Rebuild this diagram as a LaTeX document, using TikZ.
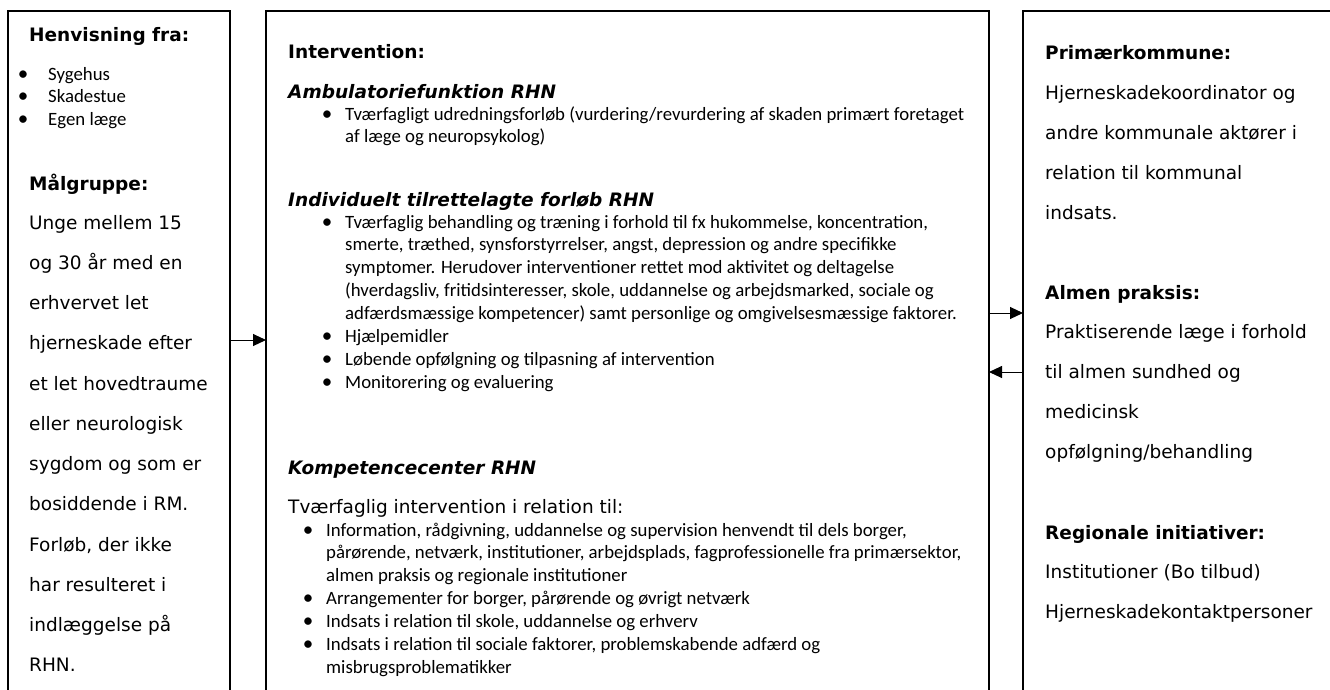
\documentclass[tikz,border=0pt]{standalone}
\usepackage{fontspec}
\setmainfont{DejaVu Sans}
\newfontfamily\calib{Carlito}
\usetikzlibrary{arrows.meta}
\tikzset{
  frame/.style={draw=black, line width=1.7pt, anchor=north west, inner sep=0pt, outer sep=0pt},
  hd/.style={anchor=base west, inner sep=0pt, font=\fontsize{18.5}{22}\selectfont\bfseries},
  hdi/.style={anchor=base west, inner sep=0pt, font=\fontsize{18.5}{22}\selectfont\bfseries\itshape},
  txt/.style={anchor=base west, inner sep=0pt},
  arr/.style={line width=1pt, -{Triangle[length=13pt, width=12pt]}}
}
\newcommand{\vbody}[2]{\parbox[t]{#1}{\fontsize{18.5}{40.25}\selectfont\raggedright #2}}
\newcommand{\cbody}[2]{\parbox[t]{#1}{\calib\fontsize{18.8}{22.9}\selectfont\raggedright #2}}
\newcommand{\bul}[1]{\leavevmode\llap{\makebox[#1][c]{\fontsize{21}{22.9}\selectfont •}}}
\begin{document}
\begin{tikzpicture}[x=1pt,y=-1pt]
\fill[white] (0,0) rectangle (1330,689);
\clip (0,0) rectangle (1330,689);
% frames
\node[frame, minimum width=222pt, minimum height=720pt] (lbox) at (8,11) {};
\node[frame, minimum width=723pt, minimum height=720pt] (mbox) at (266,11) {};
\node[frame, minimum width=400pt, minimum height=720pt] (rbox) at (1023,11) {};
% left box
\node[hd] (lh1) at (29,41) {Henvisning fra:};
\node[txt] (ll1) at (48,80) {\cbody{170pt}{\bul{50pt}Sygehus\\\bul{50pt}Skadestue\\\bul{50pt}Egen læge}};
\node[hd] (lh2) at (29,190) {Målgruppe:};
\node[txt] (ll2) at (29,229) {\vbody{200pt}{Unge mellem 15\\og 30 år med en\\erhvervet let\\hjerneskade efter\\et let hovedtraume\\eller neurologisk\\sygdom og som er\\bosiddende i RM.\\Forløb, der ikke\\har resulteret i\\indlæggelse på\\RHN.}};
% middle box
\node[hd] (mh0) at (288,58) {Intervention:};
\node[hdi] (mh1) at (288,98) {Ambulatoriefunktion RHN};
\node[txt] (ml1) at (345,120) {\cbody{630pt}{\bul{36pt}Tværfagligt udredningsforløb (vurdering/revurdering af skaden primært foretaget\\af læge og neuropsykolog)}};
\node[hdi] (mh2) at (288,206) {Individuelt tilrettelagte forløb RHN};
\node[txt] (ml2) at (345,228) {\cbody{630pt}{\bul{36pt}Tværfaglig behandling og træning i forhold til fx hukommelse, koncentration,\\smerte, træthed, synsforstyrrelser, angst, depression og andre specifikke\\symptomer. Herudover interventioner rettet mod aktivitet og deltagelse\\(hverdagsliv, fritidsinteresser, skole, uddannelse og arbejdsmarked, sociale og\\adfærdsmæssige kompetencer) samt personlige og omgivelsesmæssige faktorer.\\\bul{36pt}Hjælpemidler\\\bul{36pt}Løbende opfølgning og tilpasning af intervention\\\bul{36pt}Monitorering og evaluering}};
\node[hdi] (mh3) at (288,474) {Kompetencecenter RHN};
\node[txt, font=\fontsize{18.5}{22}\selectfont] (mt3) at (288,513) {Tværfaglig intervention i relation til:};
\node[txt] (ml3) at (326,536) {\cbody{650pt}{\bul{36pt}Information, rådgivning, uddannelse og supervision henvendt til dels borger,\\pårørende, netværk, institutioner, arbejdsplads, fagprofessionelle fra primærsektor,\\almen praksis og regionale institutioner\\\bul{36pt}Arrangementer for borger, pårørende og øvrigt netværk\\\bul{36pt}Indsats i relation til skole, uddannelse og erhverv\\\bul{36pt}Indsats i relation til sociale faktorer, problemskabende adfærd og\\misbrugsproblematikker}};
% right box
\node[hd] (rh1) at (1045,59) {Primærkommune:};
\node[txt] (rl1) at (1045,99) {\vbody{280pt}{Hjerneskadekoordinator og\\andre kommunale aktører i\\relation til kommunal\\indsats.}};
\node[hd] (rh2) at (1045,299) {Almen praksis:};
\node[txt] (rl2) at (1045,338) {\vbody{280pt}{Praktiserende læge i forhold\\til almen sundhed og\\medicinsk\\opfølgning/behandling}};
\node[hd] (rh3) at (1045,539) {Regionale initiativer:};
\node[txt] (rl3) at (1045,578) {\vbody{280pt}{Institutioner (Bo tilbud)\\Hjerneskadekontaktpersoner}};
% connectors
\coordinate (ya) at (0,340);
\coordinate (yb) at (0,313);
\coordinate (yc) at (0,372);
\draw[arr] (lbox.east |- ya) -- (mbox.west |- ya);
\draw[arr] (mbox.east |- yb) -- (rbox.west |- yb);
\draw[arr] (rbox.west |- yc) -- (mbox.east |- yc);
\end{tikzpicture}
\end{document}
